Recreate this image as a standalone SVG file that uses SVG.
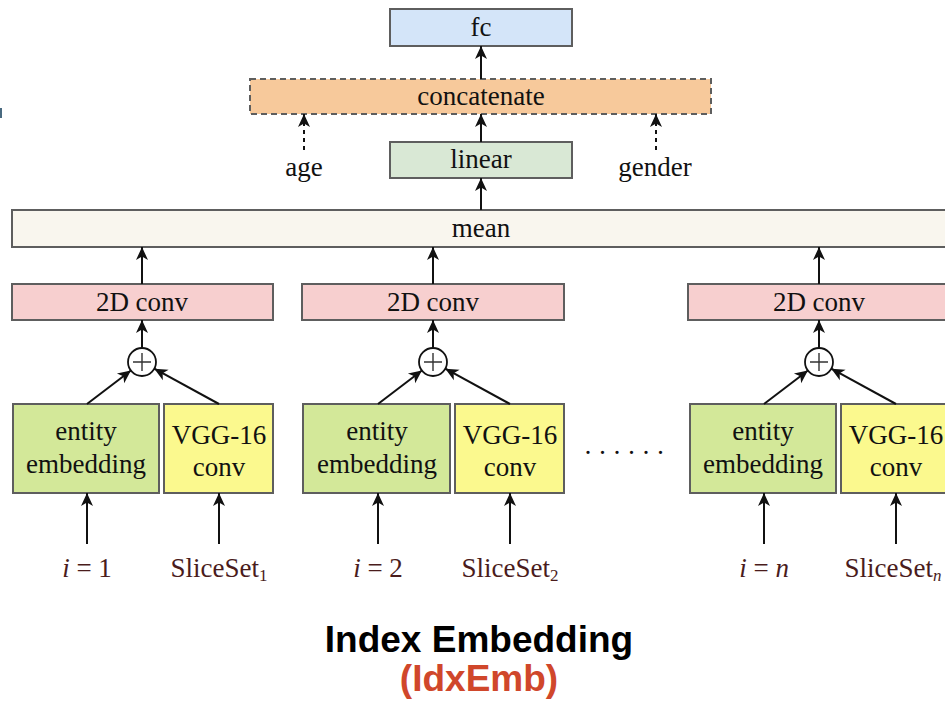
<svg xmlns="http://www.w3.org/2000/svg" width="945" height="703" viewBox="0 0 945 703">
<style>
.box{stroke:#5e5e5e;stroke-width:2}
.t{font-family:"Liberation Serif","Times New Roman",serif;font-size:27px;fill:#111;text-anchor:middle}
.m{font-family:"Liberation Serif","Times New Roman",serif;font-size:27px;fill:#4a1c1c;text-anchor:middle}
.a{stroke:#111;stroke-width:2;fill:none;marker-end:url(#ah)}
.d{stroke:#111;stroke-width:2;fill:none;stroke-dasharray:4 4;marker-end:url(#ah)}
</style>
<defs>
<marker id="ah" markerUnits="userSpaceOnUse" markerWidth="16" markerHeight="14" viewBox="-14 -7 16 14" refX="0" refY="0" orient="auto">
<path d="M0,0 L-13,-6 L-9.5,0 L-13,6 Z" fill="#111"/>
</marker>
</defs>
<rect width="945" height="703" fill="#ffffff"/>
<rect x="0" y="108" width="2" height="10" fill="#4a6a80"/>

<g id="fc"><rect class="box" x="390" y="9" width="182" height="37" fill="#d4e5f9"/><text class="t" x="481" y="36">fc</text></g>
<g id="concatenate"><rect x="250" y="79" width="461" height="35" fill="#f7c99b" stroke="#5e5e5e" stroke-width="2" stroke-dasharray="6 4"/><text class="t" x="481" y="105">concatenate</text></g>
<g id="linear"><rect class="box" x="390" y="142" width="182" height="36" fill="#d9e8d5"/><text class="t" x="481" y="168">linear</text></g>
<g id="age"><text class="t" x="304" y="176">age</text></g>
<g id="gender"><text class="t" x="655" y="176">gender</text></g>
<g id="mean"><rect class="box" x="12" y="210" width="945" height="37" fill="#f9f6ee"/><text class="t" x="481" y="237">mean</text></g>

<g id="conv1"><rect class="box" x="12" y="284" width="261" height="36" fill="#f7cfcf"/><text class="t" x="142" y="311">2D conv</text></g>
<g id="conv2"><rect class="box" x="302" y="284" width="262" height="36" fill="#f7cfcf"/><text class="t" x="433" y="311">2D conv</text></g>
<g id="conv3"><rect class="box" x="688" y="284" width="270" height="36" fill="#f7cfcf"/><text class="t" x="819" y="311">2D conv</text></g>

<g id="plus1"><circle cx="142" cy="362" r="14" fill="#fff" stroke="#111" stroke-width="1.8"/><path d="M133,362 H151 M142,353 V371" stroke="#333" stroke-width="1.4"/></g>
<g id="plus2"><circle cx="433" cy="362" r="14" fill="#fff" stroke="#111" stroke-width="1.8"/><path d="M424,362 H442 M433,353 V371" stroke="#333" stroke-width="1.4"/></g>
<g id="plus3"><circle cx="819" cy="362" r="14" fill="#fff" stroke="#111" stroke-width="1.8"/><path d="M810,362 H828 M819,353 V371" stroke="#333" stroke-width="1.4"/></g>

<g id="emb1"><rect class="box" x="13" y="404" width="146" height="89" fill="#d3e899"/><text class="t" x="86" y="440">entity</text><text class="t" x="86" y="473">embedding</text></g>
<g id="vgg1"><rect class="box" x="164" y="404" width="109" height="89" fill="#fbf98e"/><text class="t" x="219" y="444">VGG-16</text><text class="t" x="219" y="476">conv</text></g>
<g id="emb2"><rect class="box" x="303" y="404" width="147" height="89" fill="#d3e899"/><text class="t" x="377" y="440">entity</text><text class="t" x="377" y="473">embedding</text></g>
<g id="vgg2"><rect class="box" x="455" y="404" width="109" height="89" fill="#fbf98e"/><text class="t" x="510" y="444">VGG-16</text><text class="t" x="510" y="476">conv</text></g>
<g id="emb3"><rect class="box" x="690" y="404" width="146" height="89" fill="#d3e899"/><text class="t" x="763" y="440">entity</text><text class="t" x="763" y="473">embedding</text></g>
<g id="vgg3"><rect class="box" x="841" y="404" width="115" height="89" fill="#fbf98e"/><text class="t" x="896" y="444">VGG-16</text><text class="t" x="896" y="476">conv</text></g>

<g id="dots"><text class="t" x="627" y="462" style="font-size:27px;letter-spacing:5.5px">······</text></g>

<g id="in1"><text class="m" x="87" y="577"><tspan font-style="italic">i</tspan> = 1</text></g>
<g id="ss1"><text class="m" x="219" y="577">SliceSet<tspan font-size="17" dy="4">1</tspan></text></g>
<g id="in2"><text class="m" x="378" y="577"><tspan font-style="italic">i</tspan> = 2</text></g>
<g id="ss2"><text class="m" x="510" y="577">SliceSet<tspan font-size="17" dy="4">2</tspan></text></g>
<g id="in3"><text class="m" x="764" y="577"><tspan font-style="italic">i</tspan> = <tspan font-style="italic">n</tspan></text></g>
<g id="ss3"><text class="m" x="893" y="577">SliceSet<tspan font-size="17" dy="4" font-style="italic">n</tspan></text></g>

<g id="title">
<text x="479" y="652" style="font-family:'Liberation Sans',Arial,sans-serif;font-size:37px;font-weight:bold;fill:#000;text-anchor:middle">Index Embedding</text>
<text x="479" y="691" style="font-family:'Liberation Sans',Arial,sans-serif;font-size:37px;font-weight:bold;fill:#d0472b;text-anchor:middle">(IdxEmb)</text>
</g>

<g id="connectors">
<path class="a" d="M481,79 V46"/>
<path class="a" d="M481,142 V114"/>
<path class="d" d="M304,150 V114"/>
<path class="d" d="M656,150 V114"/>
<path class="a" d="M481,210 V178"/>
<path class="a" d="M142,284 V247"/>
<path class="a" d="M433,284 V247"/>
<path class="a" d="M819,284 V247"/>
<path class="a" d="M142,348 V320"/>
<path class="a" d="M433,348 V320"/>
<path class="a" d="M819,348 V320"/>
<path class="a" d="M87,404 L130.9,370.5"/>
<path class="a" d="M219,404 L154.3,368.7"/>
<path class="a" d="M378,404 L421.9,370.5"/>
<path class="a" d="M510,404 L445.3,368.7"/>
<path class="a" d="M764,404 L807.9,370.5"/>
<path class="a" d="M896,404 L831.3,368.7"/>
<path class="a" d="M87,544 V493"/>
<path class="a" d="M219,544 V493"/>
<path class="a" d="M378,544 V493"/>
<path class="a" d="M510,544 V493"/>
<path class="a" d="M764,544 V493"/>
<path class="a" d="M896,544 V493"/>
</g>
</svg>
